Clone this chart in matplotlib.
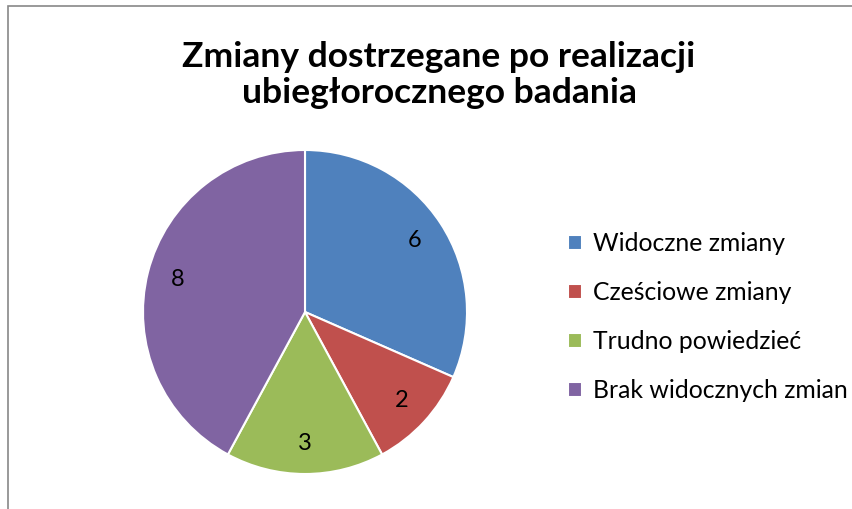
import matplotlib
matplotlib.use("Agg")
import matplotlib.pyplot as plt
from matplotlib.patches import Rectangle

categories = ["Widoczne zmiany", "Cześciowe zmiany", "Trudno powiedzieć", "Brak widocznych zmian"]
values = [6, 2, 3, 8]
colors = ["#4F81BD", "#C0504D", "#9BBB59", "#8064A2"]
title = "Zmiany dostrzegane po realizacji\nubiegłorocznego badania"

W, H = 853, 509
fig = plt.figure(figsize=(W / 100, H / 100), dpi=100)
plt.rcParams["font.family"] = ["Lato", "DejaVu Sans"]

# chart frame (only left/top edges visible in reference)
fig.patches.append(Rectangle((8 / W, -0.1), 1.2, 1 - 6 / H + 0.1, transform=fig.transFigure,
                             fill=False, edgecolor="#888888", lw=1.2))

cx, cy, r = 305, 312, 162
ax = fig.add_axes([(cx - r) / W, (H - cy - r) / H, 2 * r / W, 2 * r / H])
wedges, texts = ax.pie(values, colors=colors, startangle=90, counterclock=False,
                       labels=[str(v) for v in values], labeldistance=0.81,
                       wedgeprops=dict(edgecolor="white", linewidth=1.5),
                       textprops=dict(fontsize=17, color="black", ha="center", va="center"))
for t in texts:
    t.set_ha("center")
ax.set_xlim(-1, 1); ax.set_ylim(-1, 1)
ax.set_aspect("equal")

fig.text(439 / W, 1 - 75 / H, title, ha="center", va="center", fontsize=25.5,
         fontweight="bold", linespacing=1.15)

fig.legend(wedges, categories, loc="center left", bbox_to_anchor=(546 / W, 1 - 317 / H),
           frameon=False, fontsize=17.8, labelspacing=1.05, handlelength=0.55,
           handleheight=0.55, handletextpad=0.45)

fig.savefig("out.png", dpi=100)
